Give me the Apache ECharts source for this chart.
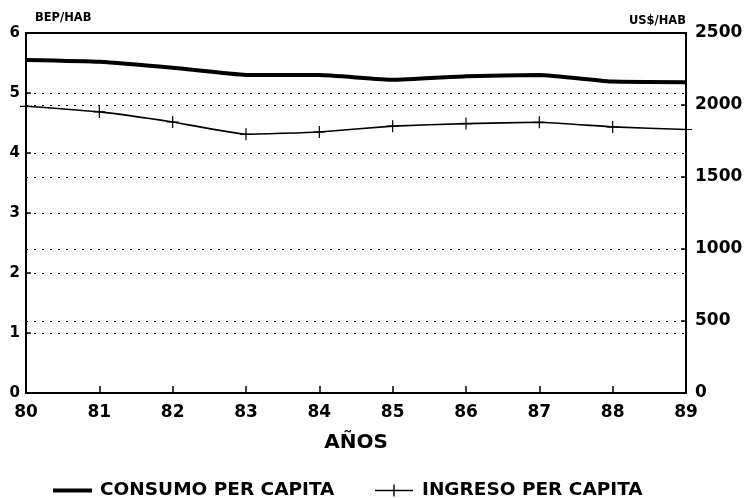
<!DOCTYPE html>
<html>
<head>
<meta charset="utf-8">
<script src="https://cdn.jsdelivr.net/npm/echarts@6/dist/echarts.min.js"></script>
<style>
  html, body { margin: 0; padding: 0; background: #fff; }
  #chart { width: 746px; height: 498px; }
</style>
</head>
<body>
<div id="chart"></div>
<script>
// years on the x axis
const years = ['80', '81', '82', '83', '84', '85', '86', '87', '88', '89']
// BEP/HAB (left axis)
const consumo = [5.55, 5.52, 5.42, 5.30, 5.30, 5.22, 5.28, 5.30, 5.19, 5.18]
// US$/HAB (right axis)
const ingreso = [1991, 1952, 1882, 1797, 1813, 1853, 1871, 1880, 1848, 1830]

const font = 'DejaVu Sans'
const dotted = { color: '#000', width: 1.2, type: [2, 6] }

const chart = echarts.init(document.getElementById('chart'))
chart.setOption({
  backgroundColor: '#fff',
  animation: false,
  textStyle: { fontFamily: font, color: '#000', fontWeight: 'bold' },
  grid: {
    left: 26, right: 60, top: 33, bottom: 105,
    show: true, borderColor: '#000', borderWidth: 2
  },
  legend: [
    {
      left: 48, top: 476,
      itemWidth: 39, itemHeight: 4,
      textStyle: { fontFamily: font, fontWeight: 'bold', fontSize: 18.5, color: '#000', padding: [0, 0, 0, 3] },
      data: [{ name: 'CONSUMO PER CAPITA', icon: 'rect' }]
    },
    {
      left: 370, top: 476,
      itemWidth: 38, itemHeight: 12,
      textStyle: { fontFamily: font, fontWeight: 'bold', fontSize: 18.5, color: '#000', padding: [0, 0, 0, 4] },
      data: [{ name: 'INGRESO PER CAPITA', icon: 'path://M0,5.3 L38,5.3 L38,6.7 L0,6.7 Z M18.3,0 L19.7,0 L19.7,12 L18.3,12 Z' }]
    }
  ],
  xAxis: {
    type: 'category',
    data: years,
    boundaryGap: false,
    name: 'AÑOS',
    nameLocation: 'middle',
    nameGap: 40,
    nameTextStyle: { fontFamily: font, fontWeight: 'bold', fontSize: 20, color: '#000' },
    axisLine: { lineStyle: { color: '#000', width: 2 } },
    axisTick: { inside: true, length: 7, lineStyle: { color: '#000', width: 1.5 } },
    axisLabel: { fontFamily: font, fontWeight: 'bold', fontSize: 17, color: '#000', margin: 11 },
    splitLine: { show: false }
  },
  yAxis: [
    {
      type: 'value',
      min: 0, max: 6, interval: 1,
      name: 'BEP/HAB',
      nameLocation: 'end',
      nameGap: 9,
      nameTextStyle: { fontFamily: font, fontWeight: 'bold', fontSize: 11.5, color: '#000', align: 'left', padding: [0, 0, 0, 9] },
      axisLine: { show: true, lineStyle: { color: '#000', width: 2 } },
      axisTick: { show: true, inside: true, length: 5, lineStyle: { color: '#000', width: 1.5 } },
      axisLabel: { fontFamily: font, fontWeight: 'bold', fontSize: 15, color: '#000', margin: 6 },
      splitLine: { show: true, lineStyle: dotted }
    },
    {
      type: 'value',
      min: 0, max: 2500, interval: 500,
      name: 'US$/HAB',
      nameLocation: 'end',
      nameGap: 6,
      nameTextStyle: { fontFamily: font, fontWeight: 'bold', fontSize: 11.5, color: '#000', align: 'right' },
      axisLine: { show: true, lineStyle: { color: '#000', width: 2 } },
      axisTick: { show: true, inside: true, length: 5, lineStyle: { color: '#000', width: 1.5 } },
      axisLabel: { fontFamily: font, fontWeight: 'bold', fontSize: 17, color: '#000', margin: 9, formatter: v => String(v) },
      splitLine: { show: true, lineStyle: dotted }
    }
  ],
  series: [
    {
      name: 'CONSUMO PER CAPITA',
      type: 'line',
      yAxisIndex: 0,
      data: consumo,
      smooth: 0.12,
      symbol: 'none',
      lineStyle: { color: '#000', width: 4 },
      itemStyle: { color: '#000' }
    },
    {
      name: 'INGRESO PER CAPITA',
      type: 'line',
      yAxisIndex: 1,
      data: ingreso,
      smooth: 0.12,
      symbol: 'path://M9,0 L11,0 L11,20 L9,20 Z M0,9 L20,9 L20,11 L0,11 Z',
      symbolSize: 12,
      lineStyle: { color: '#000', width: 1.6 },
      itemStyle: { color: '#000' }
    }
  ]
})
</script>
</body>
</html>
